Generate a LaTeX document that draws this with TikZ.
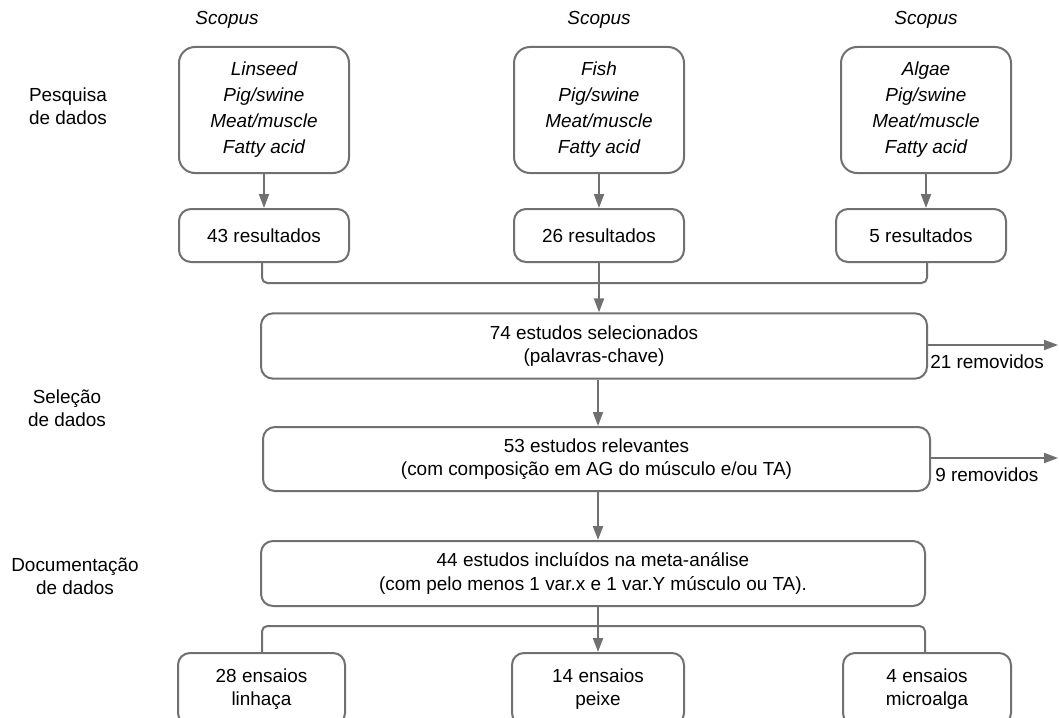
\documentclass[tikz,border=0pt]{standalone}
\usepackage{fontspec}
\setmainfont{Liberation Sans}
\usetikzlibrary{arrows.meta}
\definecolor{linegray}{RGB}{112,112,112}
\begin{document}
\begin{tikzpicture}[x=0.75pt,y=-0.75pt,
  font=\fontsize{14.2}{17.5}\selectfont,
  line/.style={draw=linegray, line width=1.5pt},
  arr/.style={line, -{Triangle[length=10.5pt,width=7.5pt]}},
  box/.style={draw=linegray, line width=1.5pt, rounded corners=9pt, align=center, inner sep=0pt},
  topbox/.style={box, rounded corners=12pt, minimum width=127.5pt, minimum height=94.5pt,
                 font=\fontsize{14.2}{19.5}\selectfont\itshape},
  resbox/.style={box, minimum width=127.5pt, minimum height=39.75pt},
  widebox/.style={box, minimum height=49pt},
  endbox/.style={box, minimum height=54pt},
  label/.style={align=center, inner sep=0pt},
  merge/.style={line, rounded corners=4pt}]
\useasboundingbox (0,0) rectangle (1059,717);
\clip (0,0) rectangle (1059,717);

% stage labels
\node[label] (l1) at (68,106) {Pesquisa\\de dados};
\node[label] (l2) at (67,408) {Seleção\\de dados};
\node[label] (l3) at (75,576) {Documentação\\de dados};

% Scopus labels
\node[label, font=\fontsize{14.2}{17.5}\selectfont\itshape] (s1) at (227,20) {Scopus};
\node[label, font=\fontsize{14.2}{17.5}\selectfont\itshape] (s2) at (599,20) {Scopus};
\node[label, font=\fontsize{14.2}{17.5}\selectfont\itshape] (s3) at (926,20) {Scopus};

% top boxes
\node[topbox] (t1) at (264,110) {Linseed\\Pig/swine\\Meat/muscle\\Fatty acid};
\node[topbox] (t2) at (599,110) {Fish\\Pig/swine\\Meat/muscle\\Fatty acid};
\node[topbox] (t3) at (926,110) {Algae\\Pig/swine\\Meat/muscle\\Fatty acid};

% result boxes
\node[resbox] (r1) at (264,235.5) {43 resultados};
\node[resbox] (r2) at (599,235.5) {26 resultados};
\node[resbox] (r3) at (921,235.5) {5 resultados};

\draw[arr] (t1.south) -- (r1.north);
\draw[arr] (t2.south) -- (r2.north);
\draw[arr] (t3.south) -- (t3.south |- r3.north);

% wide boxes
\node[widebox, minimum width=499.5pt] (b74) at (594,346)
  {74 estudos selecionados\\(palavras-chave)};
\node[widebox, minimum width=500.25pt, minimum height=48pt] (b53) at (596.5,459)
  {53 estudos relevantes\\(com composição em AG do músculo e/ou TA)};
\node[widebox, minimum width=498pt, minimum height=48.75pt] (b44) at (593,573.5)
  {44 estudos incluídos na meta-análise\\(com pelo menos 1 var.x e 1 var.Y músculo ou TA).};

\coordinate (c) at (598,0);

% merge into 74
\draw[merge] (r1.south -| 262,0) -- (262,283) -- (927,283) -- (r3.south -| 927,0);
\draw[arr] (r2.south) -- (r2.south |- b74.north);

% removed arrows
\coordinate (o1) at (1058,345);
\coordinate (o2) at (1058,458);
\draw[arr] (b74.east |- o1) -- (o1);
\draw[arr] (b53.east |- o2) -- (o2);
\node[label, anchor=west] (rm1) at (930,362) {21 removidos};
\node[label, anchor=west] (rm2) at (935,475) {9 removidos};

\draw[arr] (b74.south -| c) -- (b53.north -| c);
\draw[arr] (b53.south -| c) -- (b44.north -| c);

% bottom boxes (cut off by the lower edge)
\node[endbox, minimum width=125.25pt] (e1) at (261.5,689) {28 ensaios\\linhaça};
\node[endbox, minimum width=129pt] (e2) at (598,689) {14 ensaios\\peixe};
\node[endbox, minimum width=126pt] (e3) at (927,689) {4 ensaios\\microalga};

\draw[merge] (e1.north -| 262,0) -- (262,626) -- (925,626) -- (e3.north -| 925,0);
\draw[arr] (b44.south -| c) -- (e2.north -| c);
\end{tikzpicture}
\end{document}
